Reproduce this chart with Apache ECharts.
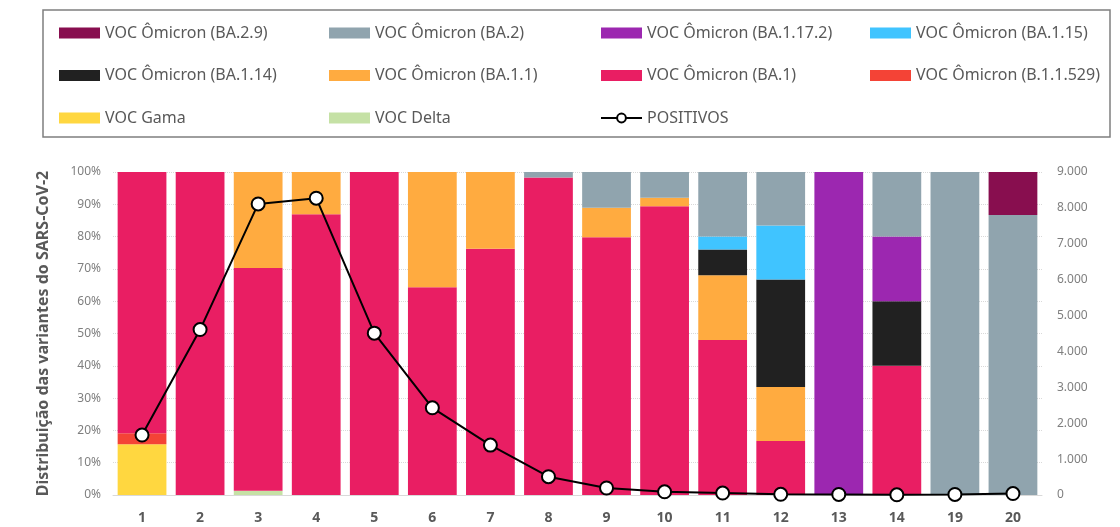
<!DOCTYPE html>
<html>
<head>
<meta charset="utf-8">
<script src="https://cdn.jsdelivr.net/npm/echarts@6/dist/echarts.min.js"></script>
<style>
  html, body { margin: 0; padding: 0; background: #fff; }
  #chart { width: 1120px; height: 527px; }
</style>
</head>
<body>
<div id="chart"></div>
<script>
// semanas epidemiologicas
const semanas = ['1', '2', '3', '4', '5', '6', '7', '8', '9', '10', '11', '12', '13', '14', '19', '20'];

// % de cada variante por semana
const delta   = [0, 0, 1.3, 0, 0, 0, 0, 0, 0, 0, 0, 0, 0, 0, 0, 0];
const gama    = [15.7, 0, 0, 0, 0, 0, 0, 0, 0, 0, 0, 0, 0, 0, 0, 0];
const b11529  = [3.4, 0, 0, 0, 0, 0, 0, 0, 0, 0, 0, 0, 0, 0, 0, 0];
const ba1     = [80.9, 100, 69.0, 86.9, 100, 64.3, 76.2, 98.3, 79.8, 89.4, 48, 16.7, 0, 40, 0, 0];
const ba11    = [0, 0, 29.7, 13.1, 0, 35.7, 23.8, 0, 9.1, 2.6, 20, 16.7, 0, 0, 0, 0];
const ba114   = [0, 0, 0, 0, 0, 0, 0, 0, 0, 0, 8, 33.3, 0, 20, 0, 0];
const ba115   = [0, 0, 0, 0, 0, 0, 0, 0, 0, 0, 4, 16.7, 0, 0, 0, 0];
const ba1172  = [0, 0, 0, 0, 0, 0, 0, 0, 0, 0, 0, 0, 100, 20, 0, 0];
const ba2     = [0, 0, 0, 0, 0, 0, 0, 1.7, 11.1, 8.0, 20, 16.6, 0, 20, 100, 86.7];
const ba29    = [0, 0, 0, 0, 0, 0, 0, 0, 0, 0, 0, 0, 0, 0, 0, 13.3];

// casos positivos
const positivos = [1670, 4610, 8110, 8270, 4510, 2430, 1390, 510, 195, 90, 55, 20, 15, 5, 15, 40];

const font = 'Noto Sans';
const grey = '#595959';

function barra(nome, dados, cor) {
  return {
    name: nome,
    type: 'bar',
    stack: 'var',
    barCategoryGap: '16%',
    data: dados,
    itemStyle: { color: cor }
  };
}

function coluna(left, itens) {
  return {
    orient: 'vertical',
    left: left,
    top: 23,
    padding: 0,
    itemWidth: 41,
    itemHeight: 11,
    itemGap: 22.5,
    textStyle: { color: grey, fontFamily: font, fontSize: 16, lineHeight: 20 },
    data: itens
  };
}

function milhar(v) {
  return String(v).replace(/\B(?=(\d{3})+(?!\d))/g, '.');
}

const chart = echarts.init(document.getElementById('chart'));

const option = {
  animation: false,
  backgroundColor: '#fff',
  graphic: [{
    type: 'rect',
    shape: { x: 43, y: 10, width: 1067, height: 127 },
    style: { fill: 'none', stroke: '#7f7f7f', lineWidth: 1.5 }
  }],
  legend: [
    coluna(59, [
      { name: 'VOC Ômicron (BA.2.9)', icon: 'rect' },
      { name: 'VOC Ômicron (BA.1.14)', icon: 'rect' },
      { name: 'VOC Gama', icon: 'rect' }
    ]),
    coluna(329, [
      { name: 'VOC Ômicron (BA.2)', icon: 'rect' },
      { name: 'VOC Ômicron (BA.1.1)', icon: 'rect' },
      { name: 'VOC Delta', icon: 'rect' }
    ]),
    coluna(600, [
      { name: 'VOC Ômicron (BA.1.17.2)', icon: 'rect' },
      { name: 'VOC Ômicron (BA.1)', icon: 'rect' },
      { name: 'POSITIVOS' }
    ]),
    coluna(870, [
      { name: 'VOC Ômicron (BA.1.15)', icon: 'rect' },
      { name: 'VOC Ômicron (B.1.1.529)', icon: 'rect' }
    ])
  ],
  grid: { left: 113, right: 78, top: 172, bottom: 32 },
  xAxis: {
    type: 'category',
    data: semanas,
    axisLine: { lineStyle: { color: '#d9d9d9', width: 1 } },
    axisTick: { show: false },
    axisLabel: { color: grey, fontFamily: font, fontSize: 14, fontWeight: 'bold', margin: 16 }
  },
  yAxis: [
    {
      type: 'value',
      min: 0,
      max: 100,
      interval: 10,
      name: 'Distribuição das variantes do SARS-CoV-2',
      nameLocation: 'middle',
      nameGap: 62,
      nameTextStyle: { color: grey, fontFamily: font, fontSize: 16, fontWeight: 'bold' },
      axisLabel: { formatter: '{value}%', color: '#7f7f7f', fontFamily: font, fontSize: 12, margin: 12 },
      splitLine: { lineStyle: { color: '#d9d9d9', type: 'dotted' } }
    },
    {
      type: 'value',
      min: 0,
      max: 9000,
      interval: 1000,
      position: 'right',
      axisLabel: { formatter: milhar, color: '#7f7f7f', fontFamily: font, fontSize: 12, margin: 15 },
      splitLine: { show: false }
    }
  ],
  series: [
    barra('VOC Delta', delta, '#c5e1a5'),
    barra('VOC Gama', gama, '#ffd740'),
    barra('VOC Ômicron (B.1.1.529)', b11529, '#f44336'),
    barra('VOC Ômicron (BA.1)', ba1, '#e91e63'),
    barra('VOC Ômicron (BA.1.1)', ba11, '#ffab40'),
    barra('VOC Ômicron (BA.1.14)', ba114, '#212121'),
    barra('VOC Ômicron (BA.1.15)', ba115, '#40c4ff'),
    barra('VOC Ômicron (BA.1.17.2)', ba1172, '#9c27b0'),
    barra('VOC Ômicron (BA.2)', ba2, '#90a4ae'),
    barra('VOC Ômicron (BA.2.9)', ba29, '#880e4f'),
    {
      name: 'POSITIVOS',
      type: 'line',
      yAxisIndex: 1,
      data: positivos,
      symbol: 'circle',
      symbolSize: 13,
      z: 10,
      lineStyle: { color: '#000', width: 2 },
      itemStyle: { color: '#fff', borderColor: '#000', borderWidth: 2 }
    }
  ]
};

option && chart.setOption(option);
</script>
</body>
</html>
